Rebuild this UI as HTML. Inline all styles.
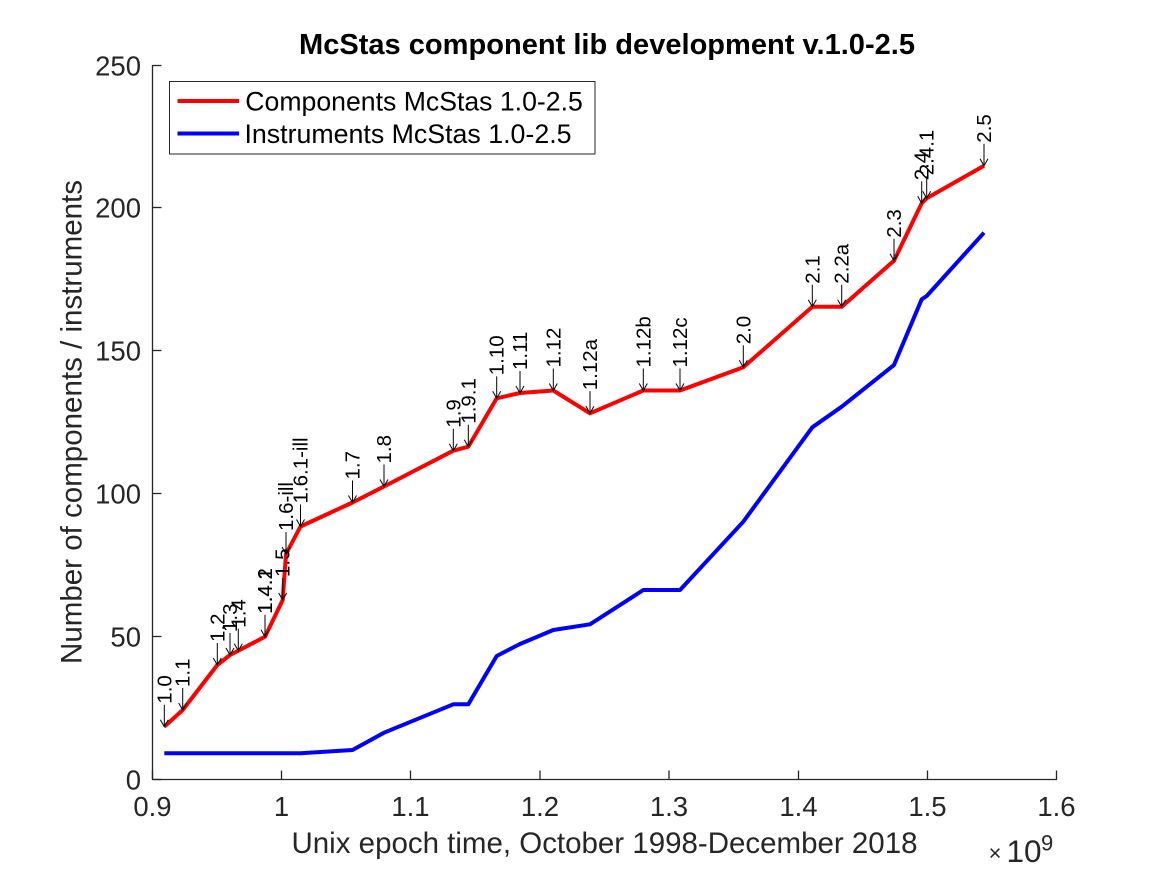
<!DOCTYPE html>
<html>
<head>
<meta charset="utf-8">
<style>
  html, body { margin: 0; padding: 0; background: #ffffff; }
  svg { display: block; }
  text { font-family: "Liberation Sans", Arial, Helvetica, sans-serif; }
</style>
</head>
<body>
<svg width="1167" height="875" viewBox="0 0 1167 875" xmlns="http://www.w3.org/2000/svg">
  <rect x="0" y="0" width="1167" height="875" fill="#ffffff"/>

  <!-- Axes -->
  <g stroke="#262626" stroke-width="1.3" fill="none">
    <line x1="152.5" y1="65" x2="152.5" y2="779.5"/>
    <line x1="152" y1="779.5" x2="1057" y2="779.5"/>
    <!-- y ticks -->
    <line x1="152.5" y1="779.5" x2="161.5" y2="779.5"/>
    <line x1="152.5" y1="636.5" x2="161.5" y2="636.5"/>
    <line x1="152.5" y1="493.5" x2="161.5" y2="493.5"/>
    <line x1="152.5" y1="350.5" x2="161.5" y2="350.5"/>
    <line x1="152.5" y1="207.5" x2="161.5" y2="207.5"/>
    <line x1="152.5" y1="65.5" x2="161.5" y2="65.5"/>
    <!-- x ticks -->
    <line x1="152.5" y1="779.5" x2="152.5" y2="770.5"/>
    <line x1="281.5" y1="779.5" x2="281.5" y2="770.5"/>
    <line x1="410.5" y1="779.5" x2="410.5" y2="770.5"/>
    <line x1="540" y1="779.5" x2="540" y2="770.5"/>
    <line x1="669" y1="779.5" x2="669" y2="770.5"/>
    <line x1="798.5" y1="779.5" x2="798.5" y2="770.5"/>
    <line x1="927.5" y1="779.5" x2="927.5" y2="770.5"/>
    <line x1="1056.5" y1="779.5" x2="1056.5" y2="770.5"/>
  </g>

  <!-- y tick labels -->
  <g fill="#262626" font-size="27.5" text-anchor="end">
    <text x="141" y="789.5">0</text>
    <text x="141" y="646.5">50</text>
    <text x="141" y="503.5">100</text>
    <text x="141" y="360.5">150</text>
    <text x="141" y="217.5">200</text>
    <text x="141" y="75.5">250</text>
  </g>

  <!-- x tick labels -->
  <g fill="#262626" font-size="27.5" text-anchor="middle">
    <text x="152.5" y="816">0.9</text>
    <text x="281.5" y="816">1</text>
    <text x="410.5" y="816">1.1</text>
    <text x="540" y="816">1.2</text>
    <text x="669" y="816">1.3</text>
    <text x="798.5" y="816">1.4</text>
    <text x="927.5" y="816">1.5</text>
    <text x="1056.5" y="816">1.6</text>
  </g>

  <!-- exponent -->
  <text x="995" y="860.5" font-size="22" fill="#262626" text-anchor="middle">×</text>
  <text x="1006.5" y="862" font-size="31.5" fill="#262626">10</text>
  <text x="1041" y="850.5" font-size="22" fill="#262626">9</text>

  <!-- axis labels -->
  <text x="604.5" y="853" font-size="29.4" fill="#262626" text-anchor="middle" textLength="626" lengthAdjust="spacingAndGlyphs">Unix epoch time, October 1998-December 2018</text>
  <text transform="translate(81.5,422) rotate(-90)" x="0" y="0" font-size="29.4" fill="#262626" text-anchor="middle" textLength="484" lengthAdjust="spacingAndGlyphs">Number of components / instruments</text>

  <!-- title -->
  <text x="607" y="54" font-size="29" font-weight="bold" fill="#000000" text-anchor="middle" textLength="616" lengthAdjust="spacingAndGlyphs">McStas component lib development v.1.0-2.5</text>

  <!-- data: instruments -->
  <polyline fill="none" stroke="#0000ff" stroke-width="4" stroke-linejoin="round"
    points="164.3,753.3 300.5,753.3 352.5,750 384,732.7 453.3,704.3 468.3,704.3 496.7,656 520,644 553.3,630 590,624.3 643.3,590 680,590 743.3,521.7 812.3,427.3 841.7,406.7 894,365 921.7,299.3 926.7,296 984,232.7"/>

  <!-- data: components -->
  <polyline fill="none" stroke="#ff0000" stroke-width="4" stroke-linejoin="round"
    points="164.3,726.7 182.7,710 217.3,665 230,655 238.3,650.7 265,636.7 282.7,600 286,554 300.5,526.5 352.5,502.5 384,486.5 453.3,450.7 468.3,446.7 496.7,398.3 520,393 553.3,390.5 590,413.3 643.3,390.5 680,390.5 743.3,367.3 812.3,306.7 841.7,306.7 894,260.7 921.7,203.3 926.7,198.3 984,165.7"/>

  <!-- version annotations -->
  <defs>
    <g id="arr">
      <line x1="0" y1="0" x2="0" y2="-22" stroke="#000" stroke-width="1"/>
      <polyline points="-4,-7 0,0 4,-7" fill="none" stroke="#000" stroke-width="1"/>
    </g>
  </defs>
  <g font-size="20.5" fill="#000">
    <use href="#arr" x="164.3" y="726.7"/><text transform="translate(164.3,726.7) rotate(-90)" x="23" y="7">1.0</text>
    <use href="#arr" x="182.7" y="710"/><text transform="translate(182.7,710) rotate(-90)" x="23" y="7">1.1</text>
    <use href="#arr" x="217.3" y="665"/><text transform="translate(217.3,665) rotate(-90)" x="23" y="7">1.2</text>
    <use href="#arr" x="230" y="655"/><text transform="translate(230,655) rotate(-90)" x="23" y="7">1.3</text>
    <use href="#arr" x="238.3" y="650.7"/><text transform="translate(238.3,650.7) rotate(-90)" x="23" y="7">1.4</text>
    <use href="#arr" x="265" y="636.7"/><text transform="translate(265,636.7) rotate(-90)" x="23" y="7">1.4.1</text>
    <text transform="translate(265,636.7) rotate(-90)" x="23" y="7">1.4.2</text>
    <use href="#arr" x="282.7" y="600"/><text transform="translate(282.7,600) rotate(-90)" x="23" y="7">1.5</text>
    <use href="#arr" x="286" y="554"/><text transform="translate(286,554) rotate(-90)" x="23" y="7">1.6-ill</text>
    <use href="#arr" x="300.5" y="526.5"/><text transform="translate(300.5,526.5) rotate(-90)" x="23" y="7">1.6.1-ill</text>
    <use href="#arr" x="352.5" y="502.5"/><text transform="translate(352.5,502.5) rotate(-90)" x="23" y="7">1.7</text>
    <use href="#arr" x="384" y="486.5"/><text transform="translate(384,486.5) rotate(-90)" x="23" y="7">1.8</text>
    <use href="#arr" x="453.3" y="450.7"/><text transform="translate(453.3,450.7) rotate(-90)" x="23" y="7">1.9</text>
    <use href="#arr" x="468.3" y="446.7"/><text transform="translate(468.3,446.7) rotate(-90)" x="23" y="7">1.9.1</text>
    <use href="#arr" x="496.7" y="398.3"/><text transform="translate(496.7,398.3) rotate(-90)" x="23" y="7">1.10</text>
    <use href="#arr" x="520" y="393"/><text transform="translate(520,393) rotate(-90)" x="23" y="7">1.11</text>
    <use href="#arr" x="553.3" y="390.5"/><text transform="translate(553.3,390.5) rotate(-90)" x="23" y="7">1.12</text>
    <use href="#arr" x="590" y="413.3"/><text transform="translate(590,413.3) rotate(-90)" x="23" y="7">1.12a</text>
    <use href="#arr" x="643.3" y="390.5"/><text transform="translate(643.3,390.5) rotate(-90)" x="23" y="7">1.12b</text>
    <use href="#arr" x="680" y="390.5"/><text transform="translate(680,390.5) rotate(-90)" x="23" y="7">1.12c</text>
    <use href="#arr" x="743.3" y="367.3"/><text transform="translate(743.3,367.3) rotate(-90)" x="23" y="7">2.0</text>
    <use href="#arr" x="812.3" y="306.7"/><text transform="translate(812.3,306.7) rotate(-90)" x="23" y="7">2.1</text>
    <use href="#arr" x="841.7" y="306.7"/><text transform="translate(841.7,306.7) rotate(-90)" x="23" y="7">2.2a</text>
    <use href="#arr" x="894" y="260.7"/><text transform="translate(894,260.7) rotate(-90)" x="23" y="7">2.3</text>
    <use href="#arr" x="921.7" y="203.3"/><text transform="translate(921.7,203.3) rotate(-90)" x="23" y="7">2.4</text>
    <use href="#arr" x="926.7" y="198.3"/><text transform="translate(926.7,198.3) rotate(-90)" x="23" y="7">2.4.1</text>
    <use href="#arr" x="984" y="165.7"/><text transform="translate(984,165.7) rotate(-90)" x="23" y="7">2.5</text>
  </g>

  <!-- legend -->
  <rect x="169.5" y="81.5" width="425.5" height="72.5" fill="#ffffff" stroke="#262626" stroke-width="1"/>
  <line x1="177.5" y1="101" x2="239" y2="101" stroke="#ff0000" stroke-width="4"/>
  <line x1="177.5" y1="133.5" x2="239" y2="133.5" stroke="#0000ff" stroke-width="4"/>
  <text x="245.3" y="110.5" font-size="26.6" fill="#000" textLength="337.5" lengthAdjust="spacingAndGlyphs">Components McStas 1.0-2.5</text>
  <text x="244.5" y="143" font-size="26.6" fill="#000" textLength="327" lengthAdjust="spacingAndGlyphs">Instruments McStas 1.0-2.5</text>
</svg>
</body>
</html>
